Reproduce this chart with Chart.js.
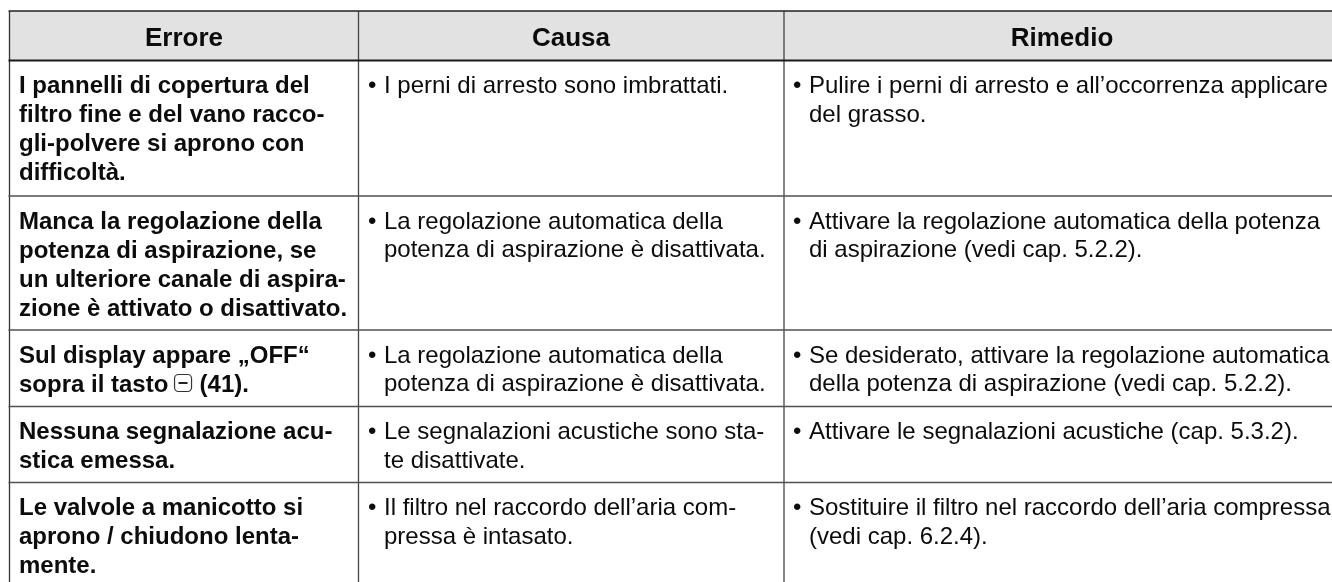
<!DOCTYPE html>
<html><head><meta charset="utf-8">
<style>html,body{margin:0;padding:0;background:#fff}canvas{display:block}</style>
<script src="https://cdn.jsdelivr.net/npm/chart.js@4"></script>
</head><body><div style="width:1332px;height:582px"><canvas id="c" width="1332" height="582"></canvas></div>
<script>
const headers = ["Errore","Causa","Rimedio"];
const headerCenters = [184,571,1062];
const columnEdges = [9.5,358.5,784];
const rowEdges = [11,60.5,196,330,406.5,482.5,582];
const errore = [
 ["I pannelli di copertura del","filtro fine e del vano racco-","gli-polvere si aprono con","difficoltà."],
 ["Manca la regolazione della","potenza di aspirazione, se","un ulteriore canale di aspira-","zione è attivato o disattivato."],
 ["Sul display appare „OFF“","sopra il tasto {k} (41)."],
 ["Nessuna segnalazione acu-","stica emessa."],
 ["Le valvole a manicotto si","aprono / chiudono lenta-","mente."]];
const causa = [
 ["• I perni di arresto sono imbrattati."],
 ["• La regolazione automatica della","  potenza di aspirazione è disattivata."],
 ["• La regolazione automatica della","  potenza di aspirazione è disattivata."],
 ["• Le segnalazioni acustiche sono sta-","  te disattivate."],
 ["• Il filtro nel raccordo dell’aria com-","  pressa è intasato."]];
const rimedio = [
 ["• Pulire i perni di arresto e all’occorrenza applicare","  del grasso."],
 ["• Attivare la regolazione automatica della potenza","  di aspirazione (vedi cap. 5.2.2)."],
 ["• Se desiderato, attivare la regolazione automatica","  della potenza di aspirazione (vedi cap. 5.2.2)."],
 ["• Attivare le segnalazioni acustiche (cap. 5.3.2)."],
 ["• Sostituire il filtro nel raccordo dell’aria compressa","  (vedi cap. 6.2.4)."]];
const FONT='"Liberation Sans",Arial,sans-serif';
const tablePlugin={id:'table',
 beforeDatasetsDraw(ch){const c=ch.ctx,X=ch.scales.x,Y=ch.scales.y;
  const px=v=>X.getPixelForValue(v),py=v=>Y.getPixelForValue(v);
  c.save();c.fillStyle='#e2e2e2';c.fillRect(px(9),py(11),1323,50);
  const hl=(y,w,col)=>{c.strokeStyle=col;c.lineWidth=w;c.beginPath();c.moveTo(px(8.5),py(y));c.lineTo(1332,py(y));c.stroke();};
  columnEdges.forEach((x,i)=>{c.strokeStyle=i==0?'#333':'#444';c.lineWidth=1.3;c.beginPath();c.moveTo(px(x),py(11));c.lineTo(px(x),582);c.stroke();});
  rowEdges.slice(0,6).forEach((y,i)=>hl(y,i==1?2:(i==0?1.3:1.5),i==1?'#1a1a1a':(i==0?'#222':'#505050')));
  c.fillStyle='#0c0c0c';c.textBaseline='alphabetic';
  c.font='bold 26px '+FONT;c.textAlign='center';
  headers.forEach((h,i)=>c.fillText(h,px(headerCenters[i]),py(46)));
  c.textAlign='left';
  const put=(cells,x,font,lh,off)=>{c.font=font;cells.forEach((ls,r)=>{ls.forEach((l,j)=>{
     let xx=x,t=l,yy=py(rowEdges[r+1]+32.5+j*lh);
     if(t.startsWith('• ')){c.fillText('•',px(x),yy);t=t.slice(2);xx=x+off;}
     else if(t.startsWith('  ')){t=t.trim();xx=x+off;}
     if(t.includes('{k}')){
       const [a,b]=t.split('{k}');
       c.fillText(a.trimEnd(),px(xx),yy);
       const k=px(xx)+c.measureText(a).width-0.5;
       c.save();c.strokeStyle='#333';c.lineWidth=1.2;c.beginPath();c.roundRect(k,yy-17,17,17,4);c.stroke();
       c.lineWidth=2;c.strokeStyle='#222';c.beginPath();c.moveTo(k+4,yy-8.5);c.lineTo(k+13,yy-8.5);c.stroke();c.restore();
       c.fillText(b.trimStart(),k+25,yy);
     } else c.fillText(t,px(xx),yy);
  });});};
  put(errore,19,'bold 24px '+FONT,29,0);
  put(causa,368,'24px '+FONT,28.5,16);
  put(rimedio,793,'24px '+FONT,28.5,16);
  c.restore();}
};
new Chart(document.getElementById('c'),{type:'scatter',
 data:{datasets:[{data:[],pointRadius:0}]},
 plugins:[tablePlugin],
 options:{responsive:false,animation:false,layout:{padding:0},
  plugins:{legend:{display:false},tooltip:{enabled:false}},
  scales:{x:{display:false,type:'linear',min:0,max:1332},y:{display:false,type:'linear',min:0,max:582,reverse:true}}}});
</script></body></html>
